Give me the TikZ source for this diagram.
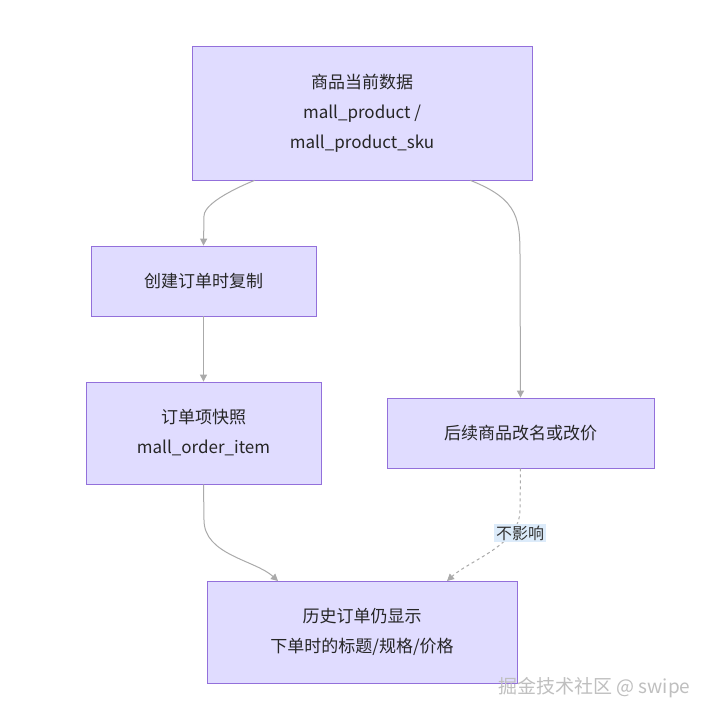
\documentclass[tikz,border=0pt]{standalone}
\usepackage{fontspec}
\setmainfont{Noto Sans CJK SC}
\usetikzlibrary{arrows.meta}
\definecolor{nfill}{HTML}{E0DCFF}
\definecolor{nline}{HTML}{9370DB}
\definecolor{eline}{HTML}{AAAAAA}
\definecolor{lbl}{HTML}{DCEBFA}
\begin{document}
\begin{tikzpicture}[x=1pt,y=-1pt,
  box/.style={draw=nline,fill=nfill,line width=0.8pt,inner sep=0pt,font=\fontsize{17}{30}\selectfont,align=center,text=black!85},
  edge/.style={draw=eline,line width=1pt,-{Triangle[length=7pt,width=7pt]}}]
\useasboundingbox (0,0) rectangle (714,722);
\fill[white] (0,0) rectangle (714,722);
\node[box,minimum width=340,minimum height=134] (a) at (362,113) {商品当前数据\\mall\_product /\\mall\_product\_sku};
\node[box,minimum width=225,minimum height=70] (b) at (203.5,281) {创建订单时复制};
\node[box,minimum width=235,minimum height=102] (c) at (203.5,433) {订单项快照\\mall\_order\_item};
\node[box,minimum width=267,minimum height=70] (d) at (520.5,433) {后续商品改名或改价};
\node[box,minimum width=310,minimum height=102] (e) at (362,632) {历史订单仍显示\\下单时的标题/规格/价格};
\draw[edge] (a.south west)++(63,0) .. controls +(0,0) and (204,200) .. (204,216) -- (b.north);
\draw[edge] (a.south east)++(-62,0) .. controls (520,200) and (520,220) .. (520,260) -- (d.north);
\draw[edge] (b) -- (c);
\draw[edge] (c.south) -- (204,520) .. controls (204,555) and (255,560) .. (278,581);
\draw[edge,dashed] (d.south) -- (520,510) .. controls (520,545) and (470,560) .. (447,581);
\node[fill=lbl,inner sep=2pt,font=\fontsize{16}{18}\selectfont,text=black!80] (l) at (520,533) {不影响};
\node[anchor=east,font=\fontsize{19}{22}\selectfont,text=black!25] (w) at (694,688) {掘金技术社区 @ swipe};
\end{tikzpicture}
\end{document}
